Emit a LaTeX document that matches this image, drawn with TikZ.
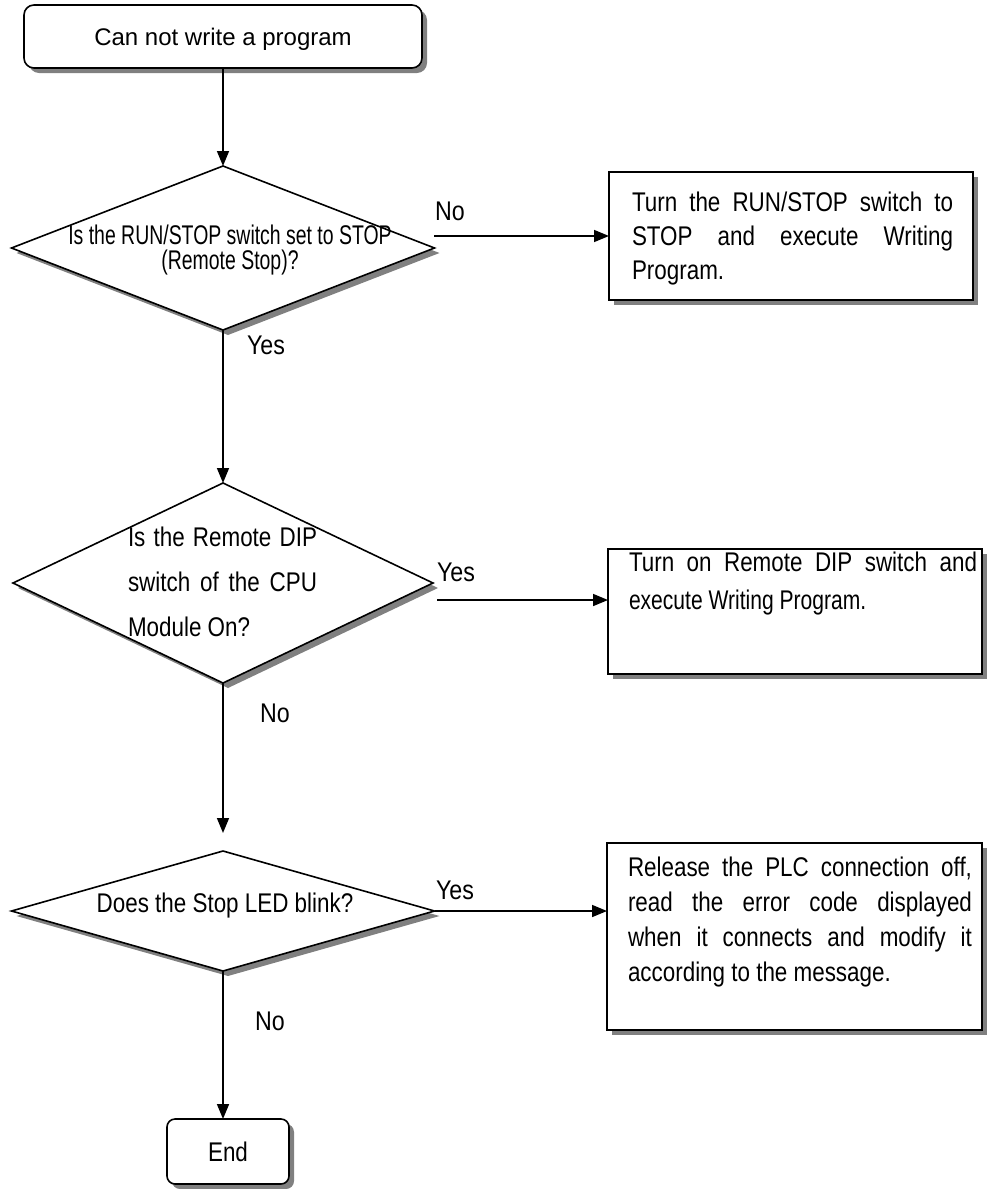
\documentclass[tikz,border=0pt]{standalone}
\usepackage{fontspec}
\setmainfont{Liberation Sans}
\newfontfamily\condfont[FakeStretch=0.83]{Liberation Sans}
\newfontfamily\tightfont[FakeStretch=0.78]{Liberation Sans}
\newfontfamily\narrowfont[FakeStretch=0.72]{Liberation Sans}
\newfontfamily\labfont[FakeStretch=0.86]{Liberation Sans}
\usetikzlibrary{arrows.meta,shapes.geometric,shadows}
\definecolor{shadowgray}{RGB}{128,128,128}
\begin{document}
\begin{tikzpicture}[x=1pt,y=-1pt,line width=1.6pt,
  shad/.style={drop shadow={shadow xshift=5pt,shadow yshift=-5pt,fill=shadowgray,opacity=1}},
  startbox/.style={draw,fill=white,rounded corners=10pt,shad,inner sep=0pt,outer sep=0pt,
    font=\fontsize{24}{28}\selectfont,text height=17.5pt,text depth=0pt},
  endbox/.style={draw,fill=white,rounded corners=8pt,shad,inner sep=0pt,outer sep=0pt,
    font=\condfont\fontsize{27}{30}\selectfont,text height=19.5pt,text depth=0pt},
  decision/.style={diamond,draw,fill=white,shad,inner sep=0pt,outer sep=0pt},
  procbox/.style={rectangle,draw,fill=white,shad,inner sep=0pt,outer sep=0pt},
  boxtext/.style={inner sep=0pt,outer sep=0pt,align=left},
  lab/.style={inner sep=0pt,font=\labfont\fontsize{27}{30}\selectfont},
  arr/.style={-{Triangle[length=15pt,width=12pt]},line width=1.6pt}]
\useasboundingbox (0,0) rectangle (987,1189);

% start
\node[startbox,minimum width=398pt,minimum height=63pt] (start) at (223,36.5) {Can not write a program};

% decision 1
\node[decision,minimum width=423pt,minimum height=164pt] (d1) at (223,248) {};
\node[boxtext,align=center,anchor=north,font=\narrowfont\fontsize{27}{25}\selectfont] (d1t) at (230,225)
  {Is the RUN/STOP switch set to STOP\\(Remote Stop)?};

% box 1
\node[procbox,minimum width=364pt,minimum height=128pt] (b1) at (791,236) {};
\node[boxtext,anchor=north west,font=\condfont\fontsize{27}{34}\selectfont] (b1t) at (632,192)
  {\makebox[321pt][s]{Turn the RUN/STOP switch to}\\
   \makebox[321pt][s]{STOP and execute Writing}\\
   Program.};

% decision 2
\node[decision,minimum width=420pt,minimum height=200pt] (d2) at (223,583) {};
\node[boxtext,anchor=north west,font=\condfont\fontsize{27}{45}\selectfont] (d2t) at (128,527)
  {\makebox[189pt][s]{Is the Remote DIP}\\
   \makebox[189pt][s]{switch of the CPU}\\
   Module On?};

% box 2
\node[procbox,minimum width=374pt,minimum height=125pt] (b2) at (795,611.5) {};
\node[boxtext,anchor=north west,font=\condfont\fontsize{27}{38}\selectfont] (b2t) at (629,552)
  {\makebox[348pt][s]{Turn on Remote DIP switch and}\\
   {\tightfont execute Writing Program.}};

% decision 3
\node[decision,minimum width=423pt,minimum height=120pt] (d3) at (223,911) {};
\node[boxtext,anchor=north,font=\condfont\fontsize{27}{30}\selectfont] (d3t) at (225,893)
  {Does the Stop LED blink?};

% box 3
\node[procbox,minimum width=375pt,minimum height=187pt] (b3) at (794.5,936.5) {};
\node[boxtext,anchor=north west,font=\condfont\fontsize{27}{35}\selectfont] (b3t) at (628,857)
  {\makebox[344pt][s]{Release the PLC connection off,}\\
   \makebox[344pt][s]{read the error code displayed}\\
   \makebox[344pt][s]{when it connects and modify it}\\
   according to the message.};

% end
\node[endbox,minimum width=122pt,minimum height=65pt] (end) at (228,1151.5) {End};

% connectors
\coordinate (a1) at (434,236);
\coordinate (a2) at (437,600);
\draw[arr] (start.south) -- (d1.north);
\draw[arr] (a1) -- (a1 -| b1.west);
\draw[arr] (d1.south) -- (d2.north);
\draw[arr] (a2) -- (a2 -| b2.west);
\draw[arr,shorten >=18pt] (d2.south) -- (d3.north);
\draw[arr] (d3.east) -- (d3.east -| b3.west);
\draw[arr] (d3.south) -- (d3.south |- end.north);

% labels
\node[lab] (l1) at (450,211) {No};
\node[lab] (l2) at (266,345) {Yes};
\node[lab] (l3) at (456,572) {Yes};
\node[lab] (l4) at (275,713) {No};
\node[lab] (l5) at (455,890) {Yes};
\node[lab] (l6) at (270,1021) {No};
\end{tikzpicture}
\end{document}
